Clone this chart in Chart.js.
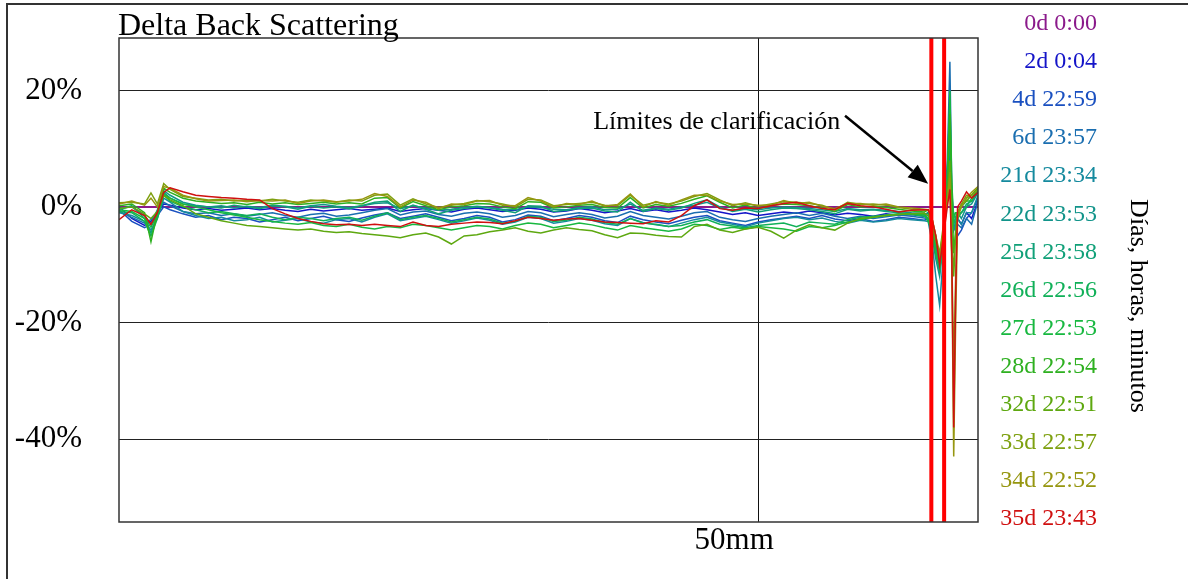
<!DOCTYPE html>
<html lang="es">
<head>
<meta charset="utf-8">
<title>Delta Back Scattering</title>
<script src="https://cdn.jsdelivr.net/npm/chart.js@4.4.1/dist/chart.umd.min.js"></script>
<style>
  html, body { margin: 0; padding: 0; background: #fff; }
  #wrap { width: 1188px; height: 579px; }
</style>
</head>
<body>
<div id="wrap"><canvas id="chartBS" width="1188" height="579"></canvas></div>
<script>
// Altura en el tubo (mm)
const posMm = [
  0, 1, 2, 2.5, 3, 3.5,
  4, 5, 6, 7, 8, 9, 10, 11, 12, 13,
  14, 15, 16, 17, 18, 19, 20, 21, 22, 23,
  24, 25, 26, 27, 28, 29, 30, 31, 32, 33,
  34, 35, 36, 37, 38, 39, 40, 41, 42, 43,
  44, 45, 46, 47, 48, 49, 50, 51, 52, 53,
  54, 55, 56, 57, 58, 59, 60, 61, 62, 63,
  63.3, 63.6, 63.9, 64.2, 64.5, 64.8, 65.0, 65.15, 65.3, 65.45, 65.6, 65.9, 66.3, 66.7, 67.2
];

// Perfil de referencia (0d), plano en 0
const refPosMm = [0, 67.2];
const s0d = [0, 0];

// Delta BS (%) de cada medida
const s2d = [
  0.0, -2.0, -3.2, -2.5, -1.0, 0.5,
  0.3, -0.2, -0.5, -0.3, -0.6, -0.4, -0.2, -0.5, -0.3, -0.6,
  -0.8, -0.4, -0.7, -0.5, -0.3, -0.6, -0.4, -0.2, -0.8, -0.5,
  -0.3, -0.6, -0.9, -0.4, -0.2, -0.5, -0.8, -0.6, -0.2, -0.4,
  -0.9, -0.7, -0.3, -0.6, -1.0, -0.7, -0.3, -0.8, -0.5, -0.9,
  -0.6, -0.2, -0.5, -0.9, -1.3, -1.0, -1.5, -1.2, -0.9, -1.1,
  -0.7, -1.0, -1.4, -1.1, -1.3, -1.6, -1.2, -1.5, -1.3, -1.6,
  -1, -3, -6, -9, -5, 2, 5, -2, -3, -4, -2, -3, -1, -2, 1
];
const s4d = [
  -0.5, -2.5, -3.6, -3.0, -1.5, 0.0,
  -0.5, -1.2, -1.8, -1.5, -2.2, -1.8, -2.0, -2.6, -2.2, -1.8,
  -2.4, -2.0, -1.6, -2.2, -2.5, -1.9, -1.4, -1.0, -2.0, -1.6,
  -1.2, -1.8, -2.4, -2.0, -1.5, -1.8, -2.6, -2.2, -1.4, -1.6,
  -2.4, -2.0, -1.5, -1.8, -2.4, -2.7, -1.6, -2.2, -2.6, -2.9,
  -2.3, -1.8, -1.5, -2.4, -2.8, -3.2, -2.6, -2.2, -1.9, -1.6,
  -2.0, -1.5, -2.1, -2.4, -2.0, -2.5, -2.2, -1.8, -2.0, -2.3,
  -2, -4, -7, -10, -6, 4, 10, 0, -4, -3, -5, -4, -2, -1, 1.5
];
const s6d = [
  -0.8, -1.8, -2.8, -2.2, -1.2, 0.8,
  0.2, -0.8, -1.2, -1.0, -1.5, -1.2, -1.6, -1.3, -1.0, -1.5,
  -1.8, -1.3, -1.1, -1.6, -1.4, -1.0, -0.6, -0.3, -1.4, -0.9,
  -0.7, -1.3, -1.6, -1.1, -0.9, -1.2, -1.8, -1.5, -0.8, -1.0,
  -1.7, -1.3, -1.0, -1.3, -1.9, -1.6, -0.8, -1.5, -1.8, -2.1,
  -1.6, -1.0, -0.8, -1.8, -2.2, -2.5, -2.0, -1.6, -1.3, -1.0,
  -1.5, -1.1, -1.6, -2.0, -1.6, -2.0, -1.7, -1.4, -1.6, -1.9,
  -2, -4, -8, -11, -4, 8, 25, 3, -3, -4, -3, -3.6, -2, -3, 1
];
const s21d = [
  -1.0, -1.5, -2.5, -4.0, -2.0, 1.5,
  0.8, -0.8, -1.5, -2.0, -1.8, -2.4, -2.2, -1.8, -2.6, -2.3,
  -2.0, -2.6, -2.8, -2.2, -2.0, -2.6, -1.8, -1.2, -2.4, -2.0,
  -1.6, -2.2, -2.8, -2.4, -1.9, -2.3, -3.0, -2.6, -1.8, -2.0,
  -2.8, -2.5, -2.0, -2.3, -2.9, -3.2, -2.0, -2.7, -3.1, -3.4,
  -2.8, -2.2, -1.8, -2.6, -3.0, -3.4, -2.8, -2.4, -2.0, -1.8,
  -2.2, -1.9, -2.5, -2.8, -2.3, -2.6, -2.4, -2.0, -2.2, -2.4,
  -2.5, -6, -12, -17, -8, 5, 14, 0, -4, -3, -2, -3, -1, -1, 2
];
const s22d = [
  -0.3, 0.0, -1.5, -3.0, -0.5, 2.8,
  2.0, 0.8, 0.3, 0.0, 0.2, -0.2, 0.1, -0.1, 0.3, 0.1,
  -0.2, 0.2, 0.4, 0.1, -0.1, 0.2, 0.6, 0.7, -0.3, 0.2,
  -0.2, -0.6, -0.4, -0.1, 0.1, -0.1, -0.4, -0.5, 0.0, -0.1,
  -0.4, -0.5, -0.1, 0.0, -0.5, -0.4, 0.5, -0.6, -0.2, -0.4,
  0.0, 0.3, 0.8, -0.2, -0.6, -0.3, -0.5, -0.2, 0.0, -0.1,
  -0.3, -0.5, -0.8, -0.3, -0.5, -0.4, -0.6, -0.8, -1.0, -1.1,
  -2, -5, -9, -12, -6, 6, 18, 2, -2, -3, -1, -2, 0, 0.5, 2.5
];
const s25d = [
  -0.5, 0.2, -2.0, -4.5, -1.5, 2.5,
  1.5, 0.5, 0.2, 0.0, -0.2, 0.3, 0.0, -0.3, 0.2, 0.0,
  -0.4, 0.1, -0.2, 0.0, -0.3, 0.2, 0.8, 1.0, -0.8, 0.3,
  -0.4, -1.2, -0.6, -0.3, 0.0, -0.2, -0.6, -1.0, 0.2, 0.1,
  -0.8, -0.6, -0.3, -0.2, -0.7, -0.9, 0.8, -0.8, -0.3, -0.6,
  -0.2, 0.6, 1.2, 0.0, -0.8, -0.4, -0.9, -0.5, -0.2, -0.3,
  -0.5, -0.8, -1.2, -0.4, -0.7, -0.5, -0.8, -1.0, -1.2, -1.3,
  -1, -3, -7, -10, -5, 4, 12, 0, -1, -2, -1, -1, 0.5, 1, 2.8
];
const s26d = [
  -0.8, -1.0, -2.5, -5.0, -2.0, 2.0,
  1.0, 0.0, -0.5, -1.0, -0.8, -1.2, -1.5, -1.2, -1.8, -2.2,
  -1.8, -2.0, -2.4, -2.0, -1.8, -2.3, -1.6, -1.0, -2.2, -1.8,
  -1.5, -2.0, -2.6, -2.2, -1.8, -2.1, -2.8, -2.5, -1.6, -1.8,
  -2.5, -2.3, -1.8, -2.1, -2.7, -3.0, -2.0, -2.8, -3.0, -3.4,
  -3.2, -2.6, -2.2, -3.0, -3.3, -3.6, -3.2, -3.0, -2.8, -3.4,
  -2.6, -2.8, -3.0, -2.2, -1.8, -1.6, -1.4, -1.2, -1.3, -1.6,
  -2, -4, -8, -11, -6, 3, 15, 1, -3, -2, -2, -1, 0, 1.5, 3
];
const s27d = [
  -0.5, -0.8, -2.0, -3.5, -1.5, 2.2,
  1.5, 0.5, 0.0, -0.5, -1.0, -1.4, -1.8, -2.2, -2.5, -2.8,
  -3.0, -2.7, -3.2, -3.4, -3.0, -3.5, -3.8, -3.4, -3.6, -3.0,
  -3.2, -3.6, -4.0, -3.6, -3.2, -3.4, -3.8, -3.2, -2.8, -3.0,
  -3.6, -3.2, -2.8, -3.1, -3.6, -4.0, -3.2, -3.6, -3.9, -4.2,
  -3.8, -3.0, -3.2, -3.9, -3.5, -3.8, -3.4, -3.6, -3.8, -4.2,
  -3.4, -3.6, -3.2, -2.6, -2.2, -1.8, -1.5, -1.3, -1.2, -1.4,
  -2.5, -4, -8, -10, -5, 5, 20, 4, -2, -1, -1, 0, 1, 1, 3
];
const s28d = [
  0.2, 0.5, -1.0, -6.0, -1.0, 3.2,
  2.5, 1.5, 1.0, 0.8, 0.6, 0.7, 0.4, 0.8, 0.5, 0.7,
  0.4, 0.6, 0.8, 0.5, 0.7, 0.5, 1.5, 1.6, -0.2, 0.9,
  0.2, -0.5, 0.0, 0.2, 0.6, 0.5, 0.0, -0.3, 0.9, 0.8,
  -0.2, 0.0, 0.3, 0.4, -0.1, -0.2, 1.6, -0.2, 0.4, 0.1,
  0.6, 1.3, 1.9, 0.8, -0.2, 0.3, -0.3, 0.2, 0.5, 0.4,
  0.2, -0.2, -0.8, 0.4, 0.0, 0.1, -0.1, -0.4, -0.7, -0.9,
  -0.5, -3, -6, -9, -6, 2, 16, 2, -8, -4, -1, 0, 1.5, 2, 3.3
];
const s32d = [
  -0.3, 0.0, -1.2, -2.0, -0.8, 2.0,
  1.2, 0.2, -1.2, -1.8, -2.4, -2.8, -3.2, -3.4, -3.6, -3.8,
  -4.0, -3.8, -4.2, -4.4, -4.3, -4.6, -4.8, -5.0, -5.3, -4.8,
  -4.5, -5.2, -6.4, -5.0, -4.8, -4.3, -4.0, -3.6, -4.2, -4.5,
  -4.0, -3.6, -3.9, -4.1, -4.8, -5.3, -4.5, -4.6, -4.9, -5.1,
  -5.2, -3.4, -3.0, -4.0, -4.4, -3.8, -3.5, -4.2, -5.4, -4.0,
  -3.1, -3.6, -4.0, -2.8, -2.0, -1.8, -1.5, -1.3, -1.2, -1.1,
  -1.5, -3, -6, -8, -4, 1, 8, -3, -12, -5, -1, 0.5, 1, 2, 3
];
const s33d = [
  0.7, 0.8, 0.5, 2.4, 0.5, 4.0,
  3.0, 1.8, 1.5, 1.2, 1.3, 1.0, 1.2, 1.0, 1.3, 1.0,
  0.8, 1.2, 1.0, 0.8, 1.2, 1.0, 2.0, 2.2, 0.3, 1.4,
  0.5, -0.1, 0.3, 0.6, 1.1, 0.9, 0.5, 0.0, 1.3, 1.2,
  0.2, 0.4, 0.6, 0.8, 0.3, 0.2, 2.0, 0.3, 0.8, 0.5,
  1.0, 1.8, 2.3, 1.2, 0.2, 0.7, 0.1, 0.5, 0.9, 0.8,
  0.6, 0.3, -0.5, 0.8, 0.4, 0.5, 0.3, -0.1, -0.4, -0.6,
  -0.5, -2, -5, -8, -3, 1, 6, -8, -28, -12, -1, 0.5, 2, 2, 3
];
const s34d = [
  0.5, 1.0, 0.3, 1.5, 0.0, 3.5,
  3.2, 2.0, 1.4, 1.0, 1.1, 1.2, 0.9, 1.1, 1.0, 1.2,
  0.6, 1.0, 1.2, 0.9, 1.0, 1.3, 2.3, 1.8, 0.0, 1.2,
  0.8, -0.3, 0.5, 0.4, 1.0, 1.1, 0.3, 0.2, 1.6, 1.0,
  0.0, 0.6, 0.4, 1.0, 0.1, 0.4, 2.2, 0.0, 0.9, 0.3,
  1.2, 2.0, 2.0, 1.0, 0.4, 0.5, 0.3, 0.3, 1.1, 0.6,
  0.8, 0.1, -0.3, 0.6, 0.6, 0.3, 0.5, 0.0, -0.2, -0.4,
  -0.5, -2, -5, -9, -4, 1, 5, -10, -43, -20, -2, 0, 1.5, 2.5, 3.5
];
const s35d = [
  -2.2, -0.5, -1.5, -3.0, -1.0, 2.5,
  3.3, 2.6, 2.0, 1.8, 1.6, 1.5, 1.3, 1.2, -0.3, -1.2,
  -2.0, -2.5, -2.9, -3.1, -3.0, -3.2, -3.0, -3.2, -3.4, -2.6,
  -3.2, -3.4, -3.0, -2.8, -2.6, -2.7, -2.9, -2.4, -1.8, -2.0,
  -2.3, -2.1, -2.0, -2.3, -2.6, -2.7, -2.8, -2.9, -2.4, -2.6,
  -1.5, 0.2, 1.2, -0.3, -0.6, -0.2, -0.3, 0.2, 0.6, 0.8,
  0.2, -0.3, -0.5, 0.6, 0.2, 0.0, -0.4, -0.9, -0.6, -0.5,
  -0.5, -2, -5, -10, -5, 0, 3, -8, -38, -15, 0, 1, 2.6, 1.5, 2.5
];

// Ejes
const yMin = -54.3;
const yMax = 29.1;
const yTicks = [-40, -20, 0, 20];
const xMax = 67.2;
const xTicks = [50];

// Limites de clarificacion (mm)
const limitsMm = [63.55, 64.55];

// Nota con flecha
const noteText = "Límites de clarificación";
const notePos = { x: 37.1, y: 13.4 };
const arrowFrom = { x: 56.8, y: 15.7 };
const arrowTo = { x: 63.3, y: 4.0 };

const serif = "'Liberation Serif', 'Times New Roman', serif";

const seriesList = [
  { label: "0d 0:00", color: "#8B1A8B", xs: refPosMm, ys: s0d, width: 2 },
  { label: "2d 0:04", color: "#1414C8", xs: posMm, ys: s2d, width: 1.5 },
  { label: "4d 22:59", color: "#1A50C0", xs: posMm, ys: s4d, width: 1.5 },
  { label: "6d 23:57", color: "#1A6EB0", xs: posMm, ys: s6d, width: 1.5 },
  { label: "21d 23:34", color: "#158A9E", xs: posMm, ys: s21d, width: 1.5 },
  { label: "22d 23:53", color: "#12948A", xs: posMm, ys: s22d, width: 1.5 },
  { label: "25d 23:58", color: "#10A078", xs: posMm, ys: s25d, width: 1.5 },
  { label: "26d 22:56", color: "#10B058", xs: posMm, ys: s26d, width: 1.5 },
  { label: "27d 22:53", color: "#18B840", xs: posMm, ys: s27d, width: 1.5 },
  { label: "28d 22:54", color: "#2EB020", xs: posMm, ys: s28d, width: 1.5 },
  { label: "32d 22:51", color: "#5EA810", xs: posMm, ys: s32d, width: 1.5 },
  { label: "33d 22:57", color: "#7EA010", xs: posMm, ys: s33d, width: 1.5 },
  { label: "34d 22:52", color: "#969610", xs: posMm, ys: s34d, width: 1.5 },
  { label: "35d 23:43", color: "#D01010", xs: posMm, ys: s35d, width: 1.5 }
];

// las medidas mas recientes quedan por encima
const datasets = seriesList.map((s, i) => ({
  label: s.label,
  data: s.xs.map((x, k) => ({ x: x, y: s.ys[k] })),
  borderColor: s.color,
  borderWidth: s.width,
  pointRadius: 0,
  tension: 0,
  fill: false,
  order: 20 - i
}));

limitsMm.forEach(x => {
  datasets.push({
    label: "",
    data: [{ x: x, y: yMin }, { x: x, y: yMax }],
    borderColor: "#FF0000",
    borderWidth: 4,
    pointRadius: 0,
    fill: false,
    order: 0
  });
});

// Marco, textos, leyenda y flecha
const decorPlugin = {
  id: "decor",
  afterDatasetsDraw(chart) {
    const ctx = chart.ctx;
    const a = chart.chartArea;
    ctx.save();
    ctx.strokeStyle = "#333";
    ctx.lineWidth = 1.5;
    ctx.strokeRect(a.left, a.top, a.right - a.left, a.bottom - a.top);
    ctx.restore();
  },
  afterDraw(chart) {
    const ctx = chart.ctx;
    const a = chart.chartArea;
    const xs = chart.scales.x;
    const ys = chart.scales.y;
    ctx.save();

    // borde exterior
    ctx.strokeStyle = "#333";
    ctx.lineWidth = 2;
    ctx.beginPath();
    ctx.moveTo(7, 579);
    ctx.lineTo(7, 4);
    ctx.lineTo(1188, 4);
    ctx.stroke();

    // titulo
    ctx.fillStyle = "#000";
    ctx.font = "32px " + serif;
    ctx.textAlign = "left";
    ctx.textBaseline = "alphabetic";
    ctx.fillText("Delta Back Scattering", a.left - 1, 35);

    // nota
    ctx.font = "26px " + serif;
    ctx.fillText(noteText, xs.getPixelForValue(notePos.x), ys.getPixelForValue(notePos.y));

    // flecha
    const x1 = xs.getPixelForValue(arrowFrom.x), y1 = ys.getPixelForValue(arrowFrom.y);
    const x2 = xs.getPixelForValue(arrowTo.x), y2 = ys.getPixelForValue(arrowTo.y);
    const ang = Math.atan2(y2 - y1, x2 - x1);
    const head = 20, half = 8;
    const bx = x2 - head * Math.cos(ang), by = y2 - head * Math.sin(ang);
    ctx.strokeStyle = "#000";
    ctx.lineWidth = 2.5;
    ctx.beginPath();
    ctx.moveTo(x1, y1);
    ctx.lineTo(bx, by);
    ctx.stroke();
    ctx.beginPath();
    ctx.moveTo(x2, y2);
    ctx.lineTo(bx + half * Math.sin(ang), by - half * Math.cos(ang));
    ctx.lineTo(bx - half * Math.sin(ang), by + half * Math.cos(ang));
    ctx.closePath();
    ctx.fill();

    // leyenda de tiempos
    ctx.font = "24px " + serif;
    ctx.textAlign = "right";
    seriesList.forEach((s, i) => {
      ctx.fillStyle = s.color;
      ctx.fillText(s.label, 1097, 30 + 38.1 * i);
    });

    // titulo vertical
    ctx.fillStyle = "#000";
    ctx.font = "26px " + serif;
    ctx.textAlign = "center";
    ctx.textBaseline = "middle";
    ctx.translate(1138, 306);
    ctx.rotate(Math.PI / 2);
    ctx.fillText("Días, horas, minutos", 0, 0);
    ctx.restore();
  }
};

const ctxBS = document.getElementById("chartBS").getContext("2d");

let chartBS = new Chart(ctxBS, {
  type: "line",
  data: { datasets: datasets },
  options: {
    responsive: false,
    animation: false,
    devicePixelRatio: 1,
    layout: { padding: { left: 0, top: 38, right: 210, bottom: 0 } },
    plugins: {
      legend: { display: false },
      tooltip: { enabled: false }
    },
    scales: {
      x: {
        type: "linear",
        min: 0,
        max: xMax,
        afterFit: scale => {
          scale.height = 57;
          scale.paddingLeft = 0;
          scale.paddingRight = 0;
        },
        afterBuildTicks: scale => { scale.ticks = xTicks.map(v => ({ value: v })); },
        grid: { color: "#111", lineWidth: 1, drawTicks: false },
        border: { display: false },
        ticks: {
          padding: 0,
          labelOffset: -24,
          color: "#000",
          font: { family: serif, size: 31 },
          callback: v => v + "mm"
        }
      },
      y: {
        min: yMin,
        max: yMax,
        afterFit: scale => {
          scale.width = 119;
          scale.paddingTop = 0;
          scale.paddingBottom = 0;
        },
        afterBuildTicks: scale => { scale.ticks = yTicks.map(v => ({ value: v })); },
        grid: { color: "#222", lineWidth: 1, drawTicks: false },
        border: { display: false },
        ticks: {
          padding: 37,
          color: "#000",
          font: { family: serif, size: 31 },
          callback: v => v + "%"
        }
      }
    }
  },
  plugins: [decorPlugin]
});
</script>
</body>
</html>
